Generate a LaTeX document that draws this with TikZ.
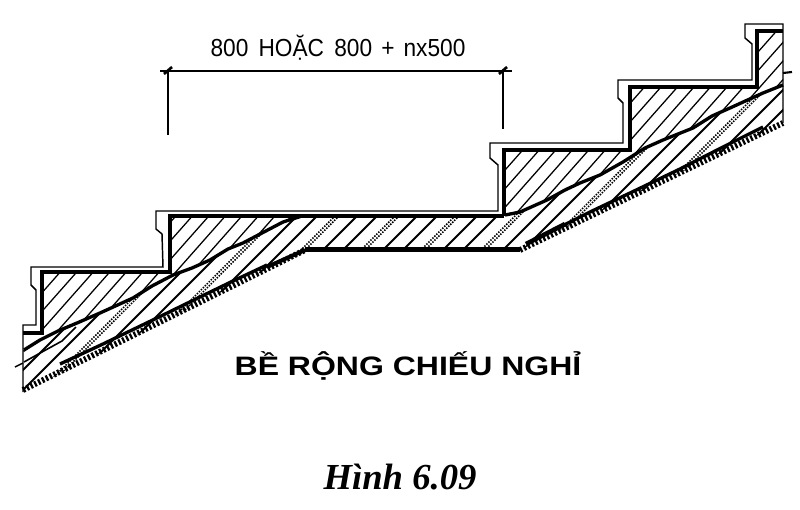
\documentclass[tikz,border=0pt]{standalone}
\usepackage{fontspec}
\setmainfont{Liberation Sans}
\newfontfamily\capfont{Liberation Serif}
\begin{document}
\begin{tikzpicture}[x=0.75pt,y=-0.75pt,
  thinline/.style={line width=1.1pt,black},
  stepline/.style={line width=2.8pt,black,line join=miter},
  hatchup/.style={line width=0.95pt,black},
  hatchlow/.style={line width=1.5pt,black},
  hatchdot/.style={line width=1.15pt,black,dash pattern=on 1.1pt off 1pt},
  seam/.style={line width=2.5pt,black,line join=round},
  seamthin/.style={line width=1.2pt,black,line join=round},
  scallop/.style={line width=4.4pt,black,dash pattern=on 1.7pt off 1.5pt},
  dimline/.style={line width=1.2pt,black},
  dimtick/.style={line width=2pt,black},
  dimtext/.style={inner sep=0pt,font=\fontsize{18.5}{20}\selectfont,xscale=0.92},
  titletext/.style={inner sep=0pt,font=\fontsize{20}{22}\selectfont\bfseries,xscale=1.2},
  figtext/.style={inner sep=0pt,font=\fontsize{27.5}{30}\selectfont\capfont\bfseries\itshape}]
\useasboundingbox (0,0) rectangle (800,510);
\def\seamL{(24,350) -- (40,340) -- (58,331) -- (77,323) -- (100,313) -- (133,298) -- (152,286) -- (173,275) -- (192,268) -- (210,260) -- (228,249) -- (243,243) -- (262,233) -- (283,222) -- (302,216)}
\def\seamR{(505,215) -- (520,212) -- (547,200) -- (565,190) -- (580,183) -- (600,175) -- (623,162) -- (645,148) -- (663,140) -- (693,128) -- (712,116) -- (730,108) -- (763,93) -- (783,85)}
% hatching above the seam
\begin{scope}
  \clip (42,333) -- (42,272) -- (170,272) -- (170,216) -- (302,216) -- (283,222) -- (262,233) -- (243,243) -- (228,249) -- (210,260) -- (192,268) -- (173,275) -- (152,286) -- (133,298) -- (100,313) -- (77,323) -- (58,331) -- cycle;
  \foreach \k in {-3,...,20} {\draw[hatchup] ({301+16.5*\k},0) -- ({301+16.5*\k-400},452);}
\end{scope}
\begin{scope}
  \clip (505,215) -- (504,150) -- (630,150) -- (630,87) -- (757,87) -- (757,31) -- (783,31) -- (783,85) -- (763,93) -- (730,108) -- (712,116) -- (693,128) -- (663,140) -- (645,148) -- (623,162) -- (600,175) -- (580,183) -- (565,190) -- (547,200) -- (520,212) -- cycle;
  \foreach \k in {-16,...,12} {\draw[hatchup] ({738+16.5*\k},0) -- ({738+16.5*\k-400},452);}
\end{scope}
% hatching below the seam, landing included
\begin{scope}
  \clip (23,350) -- (40,340) -- (58,331) -- (77,323) -- (100,313) -- (133,298) -- (152,286) -- (173,275) -- (192,268) -- (210,260) -- (228,249) -- (243,243) -- (262,233) -- (283,222) -- (302,216) -- (505,215) -- (520,212) -- (547,200) -- (565,190) -- (580,183) -- (600,175) -- (623,162) -- (645,148) -- (663,140) -- (693,128) -- (712,116) -- (730,108) -- (763,93) -- (783,85) -- (783,123) -- (520,250) -- (305,250) -- (23,392) -- cycle;
  \foreach \k in {-10,...,18} {
    \pgfmathtruncatemacro{\m}{mod(\k+30,3)}
    \ifnum\m=0
      \draw[hatchdot] ({553+20*\k-2},0) -- ({553+20*\k-402},400);
      \draw[hatchdot] ({553+20*\k+2},0) -- ({553+20*\k-398},400);
    \else
      \draw[hatchlow] ({553+20*\k},0) -- ({553+20*\k-400},400);
    \fi
  }
\end{scope}
% seams and underside
\draw[seam] \seamL;
\draw[seam] \seamR;
\draw[seamthin] (24,362) -- (42,352) -- (62,341) -- (76,327);
\draw[seam] (60,364) -- (103,344) -- (157,318) -- (200,297) -- (233,281) -- (267,265);
\draw[line width=3pt,black] (267,267) -- (305,250);
\draw[seam] (540,237) -- (590,212) -- (630,193) -- (680,169) -- (723,147) -- (763,127);
\draw[line width=3.4pt,black] (526,244) -- (565,224);
\draw[scallop] (23,390) -- (305,250);
\draw[scallop] (520,250) -- (783,123);
\draw[line width=3.6pt,black] (305,249.5) -- (520,249.5);
% stepped top, thick
\draw[stepline] (23,333) -- (42,333) -- (42,272) -- (170,272) -- (170,216) -- (504,216);
\draw[stepline] (504,216) -- (504,150) -- (630,150) -- (630,87) -- (757,87) -- (757,31) -- (783,31);
% finish line
\draw[thinline] (23,392) -- (23,325) -- (36,325) -- (36,290) -- (31,285) -- (31,267) -- (163,267) -- (162,234) -- (156,229) -- (156,211) -- (498,211) -- (498,165) -- (490,158) -- (490,143) -- (623,143) -- (623,103) -- (618,98) -- (618,80) -- (752,80) -- (752,44) -- (745,38) -- (745,24) -- (783,24) -- (783,123);
% break ticks
\draw[thinline] (15,367) -- (23,363);
\draw[line width=1.6pt,black] (783,73) -- (792,72);
% dimension
\coordinate (dimL) at (168,71);
\coordinate (dimR) at (503,71);
\draw[dimline] (160,71) -- (512,71);
\draw[dimline] (dimL) -- (168,135);
\draw[dimline] (dimR) -- (503,129);
\draw[dimtick] (164,74) -- (172,67);
\draw[dimtick] (499,74) -- (507,67);
\node[dimtext] (dimlabel) at (338,48) {800\hspace{0.45em}HOẶC\hspace{0.45em}800\hspace{0.4em}+\hspace{0.4em}nx500};
\node[titletext] (title) at (408,366) {BỀ RỘNG CHIẾU NGHỈ};
\node[figtext] (caption) at (400,477) {Hình 6.09};
\end{tikzpicture}
\end{document}
